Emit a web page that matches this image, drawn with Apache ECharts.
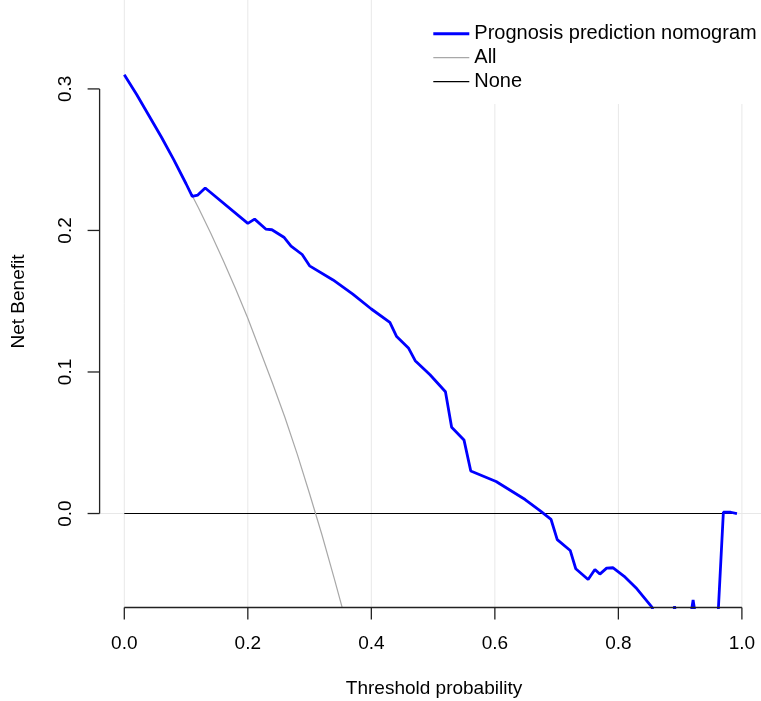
<!DOCTYPE html>
<html><head><meta charset="utf-8">
<script src="https://cdn.jsdelivr.net/npm/echarts@6/dist/echarts.min.js"></script>
<style>html,body{margin:0;padding:0;background:#fff}#c{width:761px;height:701px}</style>
</head><body><div id="c"></div>
<script>
// ---- data ----
const xTicks = [0, 0.2, 0.4, 0.6, 0.8, 1.0];
const xTickLabels = ['0.0', '0.2', '0.4', '0.6', '0.8', '1.0'];
const yTicks = [0, 0.1, 0.2, 0.3];
const yTickLabels = ['0.0', '0.1', '0.2', '0.3'];
const xRange = [-0.04, 1.04];
const yRange = [-0.0664, 0.366];

const modelT  = [0, 0.02, 0.04, 0.06, 0.08, 0.10, 0.110, 0.119, 0.131, 0.200, 0.211, 0.229, 0.239, 0.259, 0.270, 0.288, 0.300, 0.338, 0.370, 0.400, 0.430, 0.441, 0.460, 0.471, 0.495, 0.520, 0.530, 0.550, 0.561, 0.602, 0.649, 0.673, 0.691, 0.701, 0.722, 0.731, 0.751, 0.762, 0.770, 0.781, 0.791, 0.811, 0.830, 0.854, 0.870, 0.885, 0.891, 0.897, 0.905, 0.911, 0.921, 0.931, 0.940, 0.950, 0.961, 0.970, 0.982, 0.992];
const modelNB = [0.310, 0.296, 0.281, 0.266, 0.250, 0.233, 0.224, 0.225, 0.230, 0.205, 0.208, 0.201, 0.2005, 0.195, 0.189, 0.183, 0.175, 0.165, 0.155, 0.1445, 0.135, 0.125, 0.117, 0.108, 0.098, 0.086, 0.061, 0.052, 0.030, 0.0226, 0.0099, 0.0021, -0.0042, -0.0184, -0.0261, -0.039, -0.0466, -0.0395, -0.0428, -0.0386, -0.0383, -0.045, -0.0532, -0.0659, -0.085, -0.09, -0.0655, -0.09, -0.1, -0.09, -0.061, -0.09, -0.1, -0.1, -0.075, 0.0009, 0.0009, 0.0];

const allT  = [0, 0.02, 0.04, 0.06, 0.08, 0.10, 0.12, 0.14, 0.16, 0.18, 0.20, 0.22, 0.24, 0.26, 0.28, 0.30, 0.32, 0.34, 0.36, 0.38];
const allNB = [0.310, 0.296, 0.281, 0.266, 0.250, 0.233, 0.216, 0.198, 0.179, 0.159, 0.138, 0.115, 0.092, 0.068, 0.042, 0.014, -0.015, -0.046, -0.078, -0.113];

const noneT  = [0, 0.99];
const noneNB = [0, 0];

const seriesNames = ['Prognosis prediction nomogram', 'All', 'None'];
const xTitle = 'Threshold probability';
const yTitle = 'Net Benefit';

// ---- chart ----
const FAMILY = '"Liberation Sans", Arial, sans-serif';
const FONT = '19px ' + FAMILY;
const zip = (a, b) => a.map((v, i) => [v, b[i]]);
const chart = echarts.init(document.getElementById('c'), null, {renderer: 'canvas'});

function gridRender(isX) {
  return function (params, api) {
    const v = api.value(0);
    const p1 = isX ? api.coord([v, yRange[0]]) : api.coord([xRange[0], v]);
    const p2 = isX ? api.coord([v, yRange[1]]) : api.coord([xRange[1], v]);
    return {type: 'line', shape: {x1: p1[0], y1: p1[1], x2: p2[0], y2: p2[1]},
      style: {stroke: '#e8e8e8', lineWidth: 1}};
  };
}

function axisRender(params, api) {
  const children = [];
  const TL = 12, AX = '#222';
  const txt = (s) => ({text: s, font: FONT, fill: '#000', align: 'center', verticalAlign: 'middle',
    textAlign: 'center', textVerticalAlign: 'middle'});
  // x axis
  const xa = api.coord([xTicks[0], yRange[0]]);
  const xb = api.coord([xTicks[xTicks.length - 1], yRange[0]]);
  children.push({type: 'line', shape: {x1: xa[0], y1: xa[1], x2: xb[0], y2: xb[1]}, style: {stroke: AX, lineWidth: 1.3}});
  xTicks.forEach((v, i) => {
    const p = api.coord([v, yRange[0]]);
    children.push({type: 'line', shape: {x1: p[0], y1: p[1], x2: p[0], y2: p[1] + TL}, style: {stroke: AX, lineWidth: 1.3}});
    children.push({type: 'text', x: p[0], y: p[1] + 36, style: txt(xTickLabels[i])});
  });
  // y axis
  const ya = api.coord([xRange[0], yTicks[0]]);
  const yb = api.coord([xRange[0], yTicks[yTicks.length - 1]]);
  children.push({type: 'line', shape: {x1: ya[0], y1: ya[1], x2: yb[0], y2: yb[1]}, style: {stroke: AX, lineWidth: 1.3}});
  yTicks.forEach((v, i) => {
    const p = api.coord([xRange[0], v]);
    children.push({type: 'line', shape: {x1: p[0], y1: p[1], x2: p[0] - TL, y2: p[1]}, style: {stroke: AX, lineWidth: 1.3}});
    children.push({type: 'text', x: p[0] - 34, y: p[1], rotation: Math.PI / 2, style: txt(yTickLabels[i])});
  });
  return {type: 'group', children};
}

const option = {
  backgroundColor: '#fff',
  animation: false,
  grid: {left: 99.6, top: -4.5, width: 667, height: 612, containLabel: false, outerBoundsMode: 'none'},
  xAxis: {type: 'value', min: xRange[0], max: xRange[1], axisLine: {show: false}, axisTick: {show: false},
    axisLabel: {show: false}, splitLine: {show: false}},
  yAxis: {type: 'value', min: yRange[0], max: yRange[1], axisLine: {show: false}, axisTick: {show: false},
    axisLabel: {show: false}, splitLine: {show: false}},
  legend: {
    data: [
      {name: seriesNames[0], icon: 'path://M0 0H240V20H0Z', itemStyle: {color: '#0000ff'}},
      {name: seriesNames[1], icon: 'path://M0 0H300V10H0Z', itemStyle: {color: '#a8a8a8'}},
      {name: seriesNames[2], icon: 'path://M0 0H300V10H0Z', itemStyle: {color: '#000'}}
    ],
    orient: 'vertical', left: 413, top: -3.5, symbolKeepAspect: true,
    padding: [27.3, 400, 12.5, 20.3], backgroundColor: '#fff',
    itemWidth: 36, itemHeight: 14, itemGap: 3.9, selectedMode: false,
    textStyle: {fontSize: 20, fontFamily: FAMILY, color: '#000', lineHeight: 20}
  },
  graphic: [
    {type: 'text', x: 434, y: 689, style: {text: xTitle, font: FONT, fill: '#000', align: 'center', verticalAlign: 'middle', textAlign: 'center', textVerticalAlign: 'middle'}},
    {type: 'text', x: 18.5, y: 301.5, rotation: Math.PI / 2, style: {text: yTitle, font: FONT, fill: '#000', align: 'center', verticalAlign: 'middle', textAlign: 'center', textVerticalAlign: 'middle'}}
  ],
  series: [
    {type: 'custom', name: 'xgrid', silent: true, data: xTicks.map(v => [v, 0]), renderItem: gridRender(true), z: 1},
    {type: 'custom', name: 'ygrid', silent: true, data: yTicks.map(v => [0, v]), renderItem: gridRender(false), z: 1},
    {type: 'line', name: seriesNames[2], data: zip(noneT, noneNB), symbol: 'none', clip: true,
      lineStyle: {color: '#000', width: 1.2}, itemStyle: {color: '#000'}, z: 2},
    {type: 'line', name: seriesNames[1], data: zip(allT, allNB), symbol: 'none', clip: true, smooth: false,
      lineStyle: {color: '#a8a8a8', width: 1.2}, itemStyle: {color: '#a8a8a8'}, z: 3},
    {type: 'line', name: seriesNames[0], data: zip(modelT, modelNB), symbol: 'none', clip: true,
      lineStyle: {color: '#0000ff', width: 2.8}, itemStyle: {color: '#0000ff'}, z: 4},
    {type: 'custom', name: 'axes', silent: true, data: [[0, 0]], renderItem: axisRender, clip: false, z: 5}
  ]
};
chart.setOption(option);
</script>
</body></html>
